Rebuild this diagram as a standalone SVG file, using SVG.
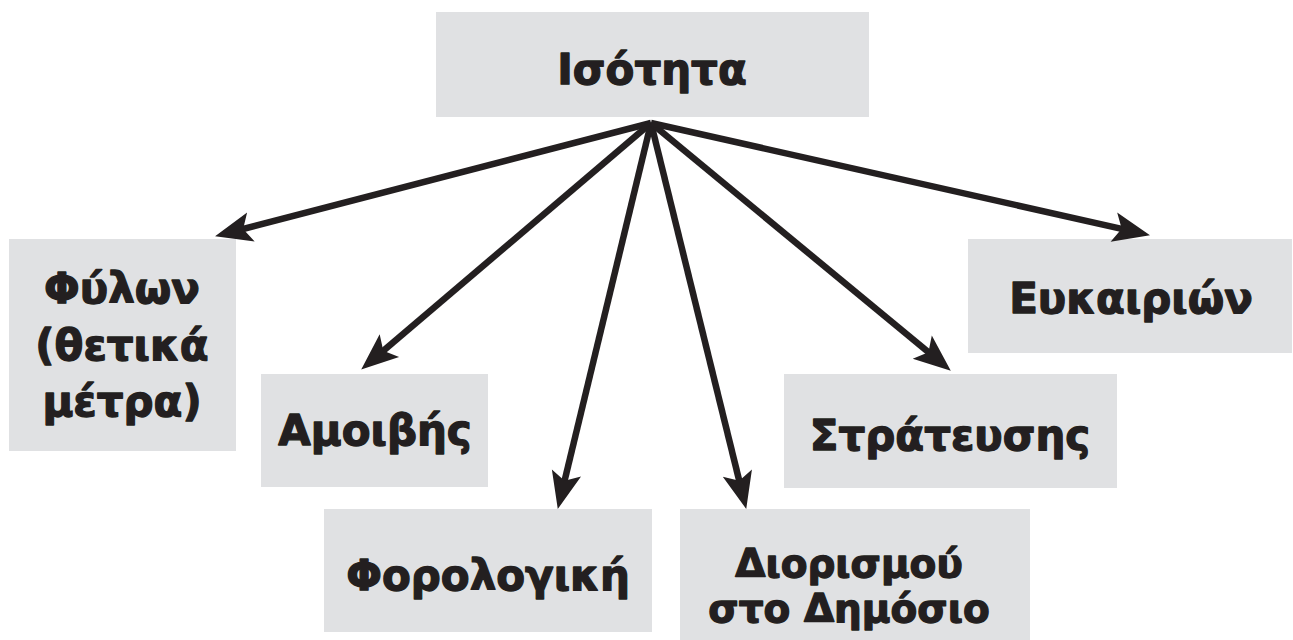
<svg xmlns="http://www.w3.org/2000/svg" width="1293" height="640" viewBox="0 0 1293 640">
  <style>
    .box { fill: #e0e1e3; }
    .lbl { font-family: "DejaVu Sans", Verdana, sans-serif; font-weight: bold; font-size: 42px; fill: #231f20; stroke: #231f20; stroke-width: 1.3; stroke-linejoin: round; text-anchor: middle; }
    .sm { font-size: 39px; }
    .conn { stroke: #231f20; stroke-width: 6.5; fill: none; marker-end: url(#arrow); }
  </style>
  <defs>
    <marker id="arrow" viewBox="0 -16 38 32" markerWidth="38" markerHeight="32" refX="16" refY="0" orient="auto" markerUnits="userSpaceOnUse" overflow="visible">
      <path d="M0,-15 L37,0 L0,15 L8,0 Z" fill="#231f20"/>
    </marker>
  </defs>
  <rect width="1293" height="640" fill="#ffffff"/>

  <g id="isotita">
    <rect class="box" x="436" y="12" width="433" height="105"/>
    <text class="lbl" x="652" y="84">Ισότητα</text>
  </g>
  <g id="fylon">
    <rect class="box" x="9" y="239" width="227" height="212"/>
    <text class="lbl" x="122" y="303">Φύλων</text>
    <text class="lbl" x="122" y="360">(θετικά</text>
    <text class="lbl" x="122" y="416">μέτρα)</text>
  </g>
  <g id="amoivis">
    <rect class="box" x="261" y="374" width="227" height="113"/>
    <text class="lbl" x="375" y="445">Αμοιβής</text>
  </g>
  <g id="forologiki">
    <rect class="box" x="324" y="509" width="328" height="123"/>
    <text class="lbl" x="488" y="590">Φορολογική</text>
  </g>
  <g id="diorismou">
    <rect class="box" x="680" y="509" width="350" height="131"/>
    <text class="lbl sm" x="849" y="577">Διορισμού</text>
    <text class="lbl sm" x="849" y="622">στο Δημόσιο</text>
  </g>
  <g id="stratefsis">
    <rect class="box" x="784" y="374" width="333" height="114"/>
    <text class="lbl" x="950" y="450">Στράτευσης</text>
  </g>
  <g id="efkairion">
    <rect class="box" x="968" y="239" width="324" height="114"/>
    <text class="lbl" x="1131" y="313">Ευκαιριών</text>
  </g>

  <g id="connectors">
    <line class="conn" x1="651" y1="123" x2="235.4" y2="231.0"/>
    <line class="conn" x1="651" y1="123" x2="377.2" y2="356.0"/>
    <line class="conn" x1="651" y1="123" x2="562.7" y2="488.6"/>
    <line class="conn" x1="651" y1="123" x2="741.2" y2="488.6"/>
    <line class="conn" x1="651" y1="123" x2="934.6" y2="357.3"/>
    <line class="conn" x1="651" y1="123" x2="1129.5" y2="230.6"/>
  </g>
</svg>
